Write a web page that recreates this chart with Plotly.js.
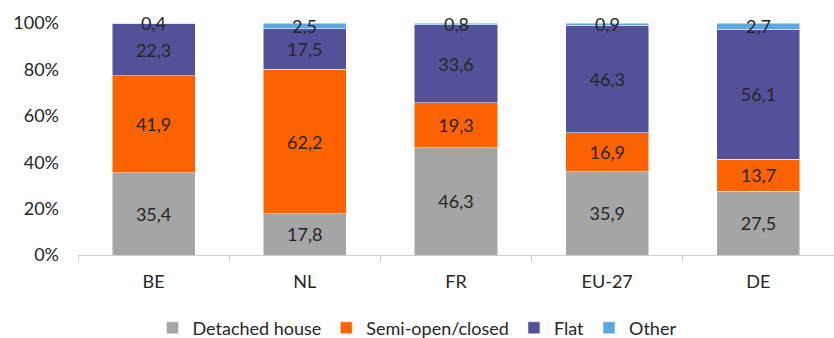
<!DOCTYPE html>
<html>
<head>
<meta charset="utf-8">
<script src="https://cdn.plot.ly/plotly-3.0.1.min.js"></script>
<style>
  html, body { margin: 0; padding: 0; background: #fff; }
  #chart { width: 834px; height: 338px; }
</style>
</head>
<body>
<div id="chart"></div>
<script>
// Housing stock by dwelling type, share in %
const countries = ['BE', 'NL', 'FR', 'EU-27', 'DE'];
const detached = [35.4, 17.8, 46.3, 35.9, 27.5];
const semiOpen = [41.9, 62.2, 19.3, 16.9, 13.7];
const flat     = [22.3, 17.5, 33.6, 46.3, 56.1];
const other    = [0.4, 2.5, 0.8, 0.9, 2.7];

const colors = {
  detached: '#a5a5a5',
  semi: '#ff6200',
  flat: '#525199',
  other: '#5fa8dd'
};

const FONT = 'Lato, Noto Sans, sans-serif';
const TEXT = '#262626';
const labelFont = { family: FONT, size: 18, color: TEXT };

function fmt(v) { return v.toFixed(1).replace('.', ','); }

function barTrace(name, values, color, showText) {
  return {
    type: 'bar',
    name: name,
    x: countries,
    y: values,
    marker: { color: color, line: { color: '#ffffff', width: 0.5 } },
    width: 0.55,
    text: showText ? values.map(fmt) : undefined,
    textposition: showText ? 'inside' : 'none',
    insidetextanchor: 'middle',
    textangle: 0,
    constraintext: 'none',
    textfont: labelFont,
    hoverinfo: 'x+y+name'
  };
}

const traces = [
  barTrace('Detached house', detached, colors.detached, true),
  barTrace('Semi-open/closed', semiOpen, colors.semi, true),
  barTrace('Flat', flat, colors.flat, true),
  barTrace('Other', other, colors.other, false)
];

// The "Other" slices are too thin for inside text, so label them at the slice centre
const annotations = countries.map((c, i) => ({
  x: c,
  y: detached[i] + semiOpen[i] + flat[i] + other[i] / 2,
  text: fmt(other[i]),
  showarrow: false,
  font: labelFont,
  xref: 'x',
  yref: 'y'
}));

const layout = {
  width: 834,
  height: 338,
  barmode: 'stack',
  margin: { l: 78, r: 0, t: 23, b: 83, autoexpand: false },
  paper_bgcolor: '#ffffff',
  plot_bgcolor: '#ffffff',
  font: { family: FONT, size: 18, color: TEXT },
  showlegend: true,
  legend: {
    orientation: 'h',
    xref: 'paper',
    yref: 'paper',
    x: 0.4484,
    xanchor: 'center',
    y: -0.315,
    yanchor: 'middle',
    font: { family: FONT, size: 18, color: TEXT },
    itemwidth: 30,
    tracegroupgap: 0,
    traceorder: 'normal'
  },
  xaxis: {
    type: 'category',
    showline: true,
    linecolor: '#cfcfcf',
    linewidth: 1,
    ticks: 'outside',
    tickson: 'boundaries',
    ticklen: 6,
    tickcolor: '#cfcfcf',
    tickangle: 0,
    tickfont: { family: FONT, size: 18, color: TEXT },
    ticklabelstandoff: 10,
    showgrid: false,
    zeroline: false
  },
  yaxis: {
    range: [0, 100],
    dtick: 20,
    ticksuffix: '%',
    showgrid: false,
    zeroline: false,
    showline: false,
    ticks: '',
    tickfont: { family: FONT, size: 18, color: TEXT },
    ticklabelstandoff: 18
  },
  annotations: annotations
};

Plotly.newPlot('chart', traces, layout, { displayModeBar: false, staticPlot: true });
</script>
</body>
</html>
